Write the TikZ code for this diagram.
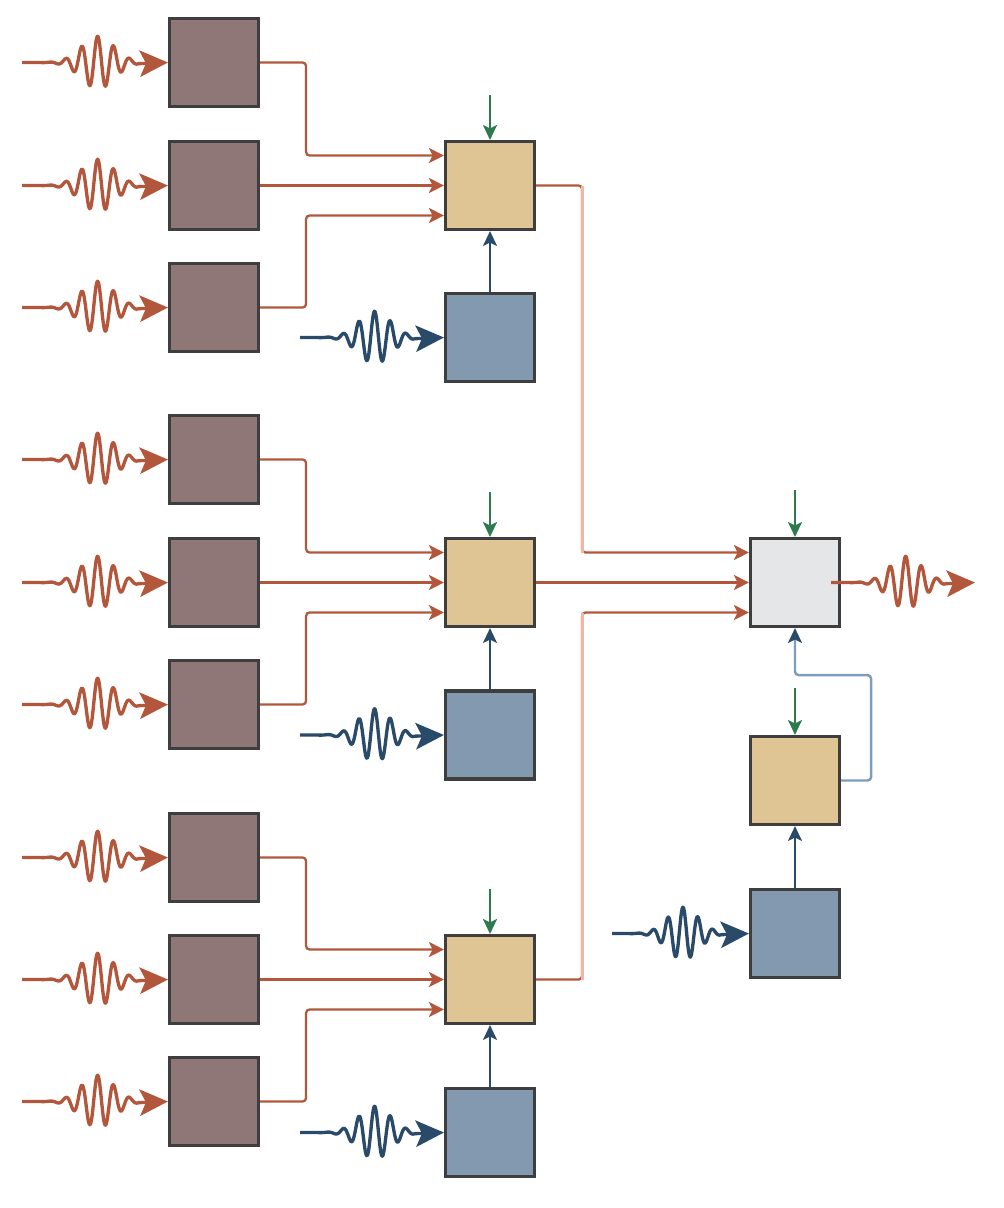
\documentclass[tikz,border=0pt]{standalone}
\usetikzlibrary{arrows.meta,calc}

\definecolor{srcfill}{RGB}{143,118,119}
\definecolor{mixfill}{RGB}{223,197,148}
\definecolor{carfill}{RGB}{130,153,175}
\definecolor{cmbfill}{RGB}{229,230,232}
\definecolor{boxline}{RGB}{62,62,62}
\definecolor{sigred}{RGB}{179,87,60}
\definecolor{palered}{RGB}{242,182,166}
\definecolor{ctlgreen}{RGB}{44,122,78}
\definecolor{cardark}{RGB}{42,74,106}
\definecolor{fbblue}{RGB}{125,157,190}

\tikzset{
    srcbox/.style={draw=boxline, line width=1.8pt, fill=srcfill, minimum width=1.78cm, minimum height=1.76cm, inner sep=0pt},
    mixbox/.style={srcbox, fill=mixfill},
    carbox/.style={srcbox, fill=carfill},
    cmbbox/.style={srcbox, fill=cmbfill},
    wavelet/.style={to path={let \p1=(\tikztostart), \p2=(\tikztotarget), \n1={\x2-\x1} in
        -- plot[variable=\t, domain=0:0.8, samples=160]
           ({\x1+\t*\n1}, {\y1-15pt*exp(-((\t-0.52)/0.16)^2)*sin(3300*\t)})
        -- (\tikztotarget) \tikztonodes}},
    redwave/.style={wavelet, draw=sigred, line width=1.9pt, line join=round,
        -{Stealth[length=16pt, width=15pt, inset=3.5pt]}},
    bluewave/.style={redwave, draw=cardark},
    link/.style={draw=sigred, line width=1.3pt, rounded corners=2pt,
        -{Stealth[length=8.5pt, width=8.5pt, inset=2pt]}},
    fade/.style={draw=palered, line width=1.7pt},
    ctl/.style={draw=ctlgreen, line width=1.2pt, -{Stealth[length=8.5pt, width=8pt, inset=2pt]}},
    feed/.style={draw=cardark, line width=1.2pt, -{Stealth[length=8.5pt, width=8pt, inset=2pt]}},
    fbline/.style={draw=fbblue, line width=1.4pt, rounded corners=2pt,
        -{Stealth[length=8.5pt, width=8pt, inset=2pt, color=cardark]}}
}

\begin{document}
\begin{tikzpicture}[x=0.02cm, y=-0.02cm]
\useasboundingbox (0,0) rectangle (1004,1208);

% ===== Group A: top mixer =====
\begin{scope}[shift={(0,0)}]
    \node[srcbox] (a1) at (214,62.5) {};
    \node[srcbox] (a2) at (214,185.5) {};
    \node[srcbox] (a3) at (214,307.5) {};
    \node[mixbox] (am) at (490,185.5) {};
    \node[carbox] (ac) at (490,337.5) {};
    \coordinate (ai1) at (22,62.5);
    \coordinate (ai2) at (22,185.5);
    \coordinate (ai3) at (22,307.5);
    \coordinate (aci) at (300,337.5);
    \coordinate (ag) at (490,95);
    \draw[redwave] (ai1) to (a1.west);
    \draw[redwave] (ai2) to (a2.west);
    \draw[redwave] (ai3) to (a3.west);
    \draw[bluewave] (aci) to (ac.west);
    \draw[link] (a1.east) -- ++(46,0) |- ($(am.west)+(0,-30)$);
    \draw[link] (a2.east) -- (am.west);
    \draw[link] (a3.east) -- ++(46,0) |- ($(am.west)+(0,30)$);
    \draw[ctl] (ag) -- (am.north);
    \draw[feed] (ac.north) -- (am.south);
\end{scope}

% ===== Group B: middle mixer =====
\begin{scope}[shift={(0,397)}]
    \node[srcbox] (b1) at (214,62.5) {};
    \node[srcbox] (b2) at (214,185.5) {};
    \node[srcbox] (b3) at (214,307.5) {};
    \node[mixbox] (bm) at (490,185.5) {};
    \node[carbox] (bc) at (490,338) {};
    \coordinate (bi1) at (22,62.5);
    \coordinate (bi2) at (22,185.5);
    \coordinate (bi3) at (22,307.5);
    \coordinate (bci) at (300,338);
    \coordinate (bg) at (490,95);
    \draw[redwave] (bi1) to (b1.west);
    \draw[redwave] (bi2) to (b2.west);
    \draw[redwave] (bi3) to (b3.west);
    \draw[bluewave] (bci) to (bc.west);
    \draw[link] (b1.east) -- ++(46,0) |- ($(bm.west)+(0,-30)$);
    \draw[link] (b2.east) -- (bm.west);
    \draw[link] (b3.east) -- ++(46,0) |- ($(bm.west)+(0,30)$);
    \draw[ctl] (bg) -- (bm.north);
    \draw[feed] (bc.north) -- (bm.south);
\end{scope}

% ===== Group C: bottom mixer =====
\begin{scope}[shift={(0,794)}]
    \node[srcbox] (c1) at (214,63.5) {};
    \node[srcbox] (c2) at (214,185.5) {};
    \node[srcbox] (c3) at (214,307.5) {};
    \node[mixbox] (cm) at (490,185.5) {};
    \node[carbox] (cc) at (490,338.5) {};
    \coordinate (ci1) at (22,63.5);
    \coordinate (ci2) at (22,185.5);
    \coordinate (ci3) at (22,307.5);
    \coordinate (cci) at (300,338.5);
    \coordinate (cg) at (490,95);
    \draw[redwave] (ci1) to (c1.west);
    \draw[redwave] (ci2) to (c2.west);
    \draw[redwave] (ci3) to (c3.west);
    \draw[bluewave] (cci) to (cc.west);
    \draw[link] (c1.east) -- ++(46,0) |- ($(cm.west)+(0,-30)$);
    \draw[link] (c2.east) -- (cm.west);
    \draw[link] (c3.east) -- ++(46,0) |- ($(cm.west)+(0,30)$);
    \draw[ctl] (cg) -- (cm.north);
    \draw[feed] (cc.north) -- (cm.south);
\end{scope}

% ===== Combiner and feedback loop =====
\node[cmbbox] (cb) at (795,582.5) {};
\node[mixbox] (rm) at (795,780.5) {};
\node[carbox] (rc) at (795,933.5) {};
\coordinate (kg) at (795,490);
\coordinate (rg) at (795,688);
\coordinate (rci) at (612,933.5);
\coordinate (out) at (975,582.5);

\draw[link] (am.east) -- ++(46,0) coordinate (ka) |- ($(cb.west)+(0,-30)$) coordinate (kb);
\draw[fade] (ka) -- (ka |- kb);
\draw[link] (bm.east) -- (cb.west);
\draw[link] (cm.east) -- ++(46,0) coordinate (kc) |- ($(cb.west)+(0,30)$) coordinate (kd);
\draw[fade] (kc) -- (kc |- kd);

\draw[ctl] (kg) -- (cb.north);
\draw[ctl] (rg) -- (rm.north);
\draw[bluewave] (rci) to (rc.west);
\draw[feed] (rc.north) -- (rm.south);
\draw[fbline] (rm.east) -- ++(30,0) |- ($(cb.south)+(0,47)$) -- (cb.south);
\draw[redwave] ($(cb.east)+(-10,0)$) to (out);

\end{tikzpicture}
\end{document}
